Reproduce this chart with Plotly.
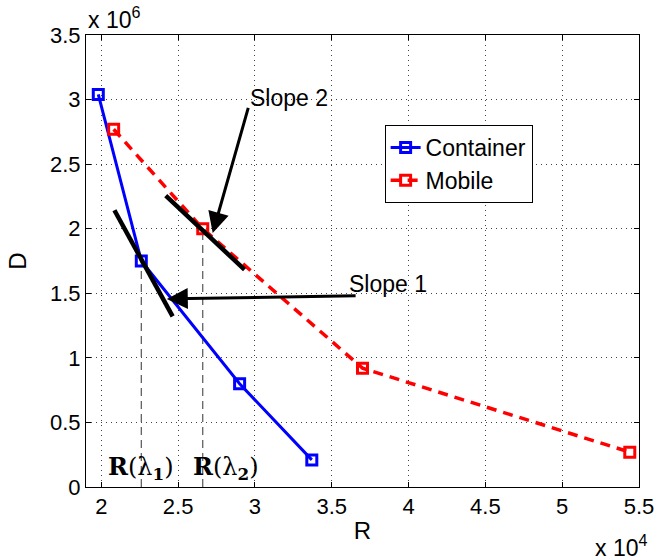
import plotly.graph_objects as go

# Rate (R) and distortion (D) operating points for each sequence
container_R = [19800, 22600, 29000, 33700]
container_D = [3.04e6, 1.75e6, 0.80e6, 0.21e6]
mobile_R = [20800, 26600, 37000, 54400]
mobile_D = [2.77e6, 2.00e6, 0.92e6, 0.27e6]

# Tangent segments (slopes) drawn at the lambda operating points
slope1_R = [20850, 24640]
slope1_D = [2.143e6, 1.321e6]
slope2_R = [24190, 29320]
slope2_D = [2.256e6, 1.683e6]

RS, DS = 1e4, 1e6  # axis scale factors

def sc(vals, s):
    return [v / s for v in vals]

fig = go.Figure()

fig.add_trace(go.Scatter(
    x=sc(container_R, RS), y=sc(container_D, DS), name="Container",
    mode="lines+markers",
    line=dict(color="#0000ff", width=3),
    marker=dict(symbol="square-open", size=10, color="#0000ff", line=dict(width=3)),
))
fig.add_trace(go.Scatter(
    x=sc(mobile_R, RS), y=sc(mobile_D, DS), name="Mobile",
    mode="lines+markers",
    line=dict(color="#ff0000", width=3.5, dash="10px,7px"),
    marker=dict(symbol="square-open", size=10, color="#ff0000", line=dict(width=3)),
))
for xs, ys in ((slope1_R, slope1_D), (slope2_R, slope2_D)):
    fig.add_trace(go.Scatter(
        x=sc(xs, RS), y=sc(ys, DS), mode="lines", showlegend=False,
        line=dict(color="black", width=4.5), hoverinfo="skip",
    ))

# Dashed drop lines from the lambda points to the R axis
for r, d in ((container_R[1], container_D[1]), (mobile_R[1], mobile_D[1])):
    fig.add_shape(type="line", xref="x", yref="y", x0=r / RS, x1=r / RS,
                  y0=0, y1=d / DS, line=dict(color="#555555", width=1.2, dash="8px,5px"),
                  layer="below")

FAM = "Liberation Sans, Arial, sans-serif"
tick_font = dict(family=FAM, size=22, color="black")
text_font = dict(family=FAM, size=23, color="black")
title_font = dict(family=FAM, size=24, color="black")

# Arrows pointing to the slopes
fig.add_annotation(x=2.426, y=1.456, ax=3.665, ay=1.482, xref="x", yref="y",
                   axref="x", ayref="y", showarrow=True, arrowhead=2, arrowsize=1.4,
                   arrowwidth=3, arrowcolor="black", text="")
fig.add_annotation(x=2.725, y=1.967, ax=2.959, ay=2.948, xref="x", yref="y",
                   axref="x", ayref="y", showarrow=True, arrowhead=2, arrowsize=1.4,
                   arrowwidth=3, arrowcolor="black", text="")
fig.add_annotation(x=3.60, y=1.575, xref="x", yref="y", text="Slope 1", showarrow=False,
                   xanchor="left", yanchor="middle", font=text_font)
fig.add_annotation(x=2.955, y=3.015, xref="x", yref="y", text="Slope 2", showarrow=False,
                   xanchor="left", yanchor="middle", font=text_font)

serif = dict(family="DejaVu Serif, Liberation Serif, serif", size=24, color="black")
fig.add_annotation(x=2.032, y=0.145, xref="x", yref="y", text="<b>R</b>(λ<sub><b>1</b></sub>)",
                   showarrow=False, xanchor="left", yanchor="middle", font=serif)
fig.add_annotation(x=2.584, y=0.145, xref="x", yref="y", text="<b>R</b>(λ<sub><b>2</b></sub>)",
                   showarrow=False, xanchor="left", yanchor="middle", font=serif)

# Scale factor labels
fig.add_annotation(x=0, y=1, xref="paper", yref="paper", text="x 10<sup>6</sup>",
                   showarrow=False, xanchor="left", yanchor="bottom", yshift=0, font=text_font)
fig.add_annotation(x=1, y=0, xref="paper", yref="paper", text="x 10<sup>4</sup>",
                   showarrow=False, xanchor="right", yanchor="top", yshift=-42, xshift=10,
                   font=text_font)

axis_common = dict(
    showline=True, linecolor="black", linewidth=1, mirror="ticks",
    ticks="inside", ticklen=5, tickcolor="black",
    showgrid=True, gridcolor="#444444", gridwidth=1, griddash="1px,4px",
    zeroline=False, tickfont=tick_font, title_font=title_font,
)

fig.update_xaxes(range=[1.9, 5.5], tickvals=[2, 2.5, 3, 3.5, 4, 4.5, 5, 5.5],
                 ticktext=["2", "2.5", "3", "3.5", "4", "4.5", "5", "5.5"],
                 title_text="R", title_standoff=3, **axis_common)
fig.update_yaxes(range=[0, 3.5], tickvals=[0, 0.5, 1, 1.5, 2, 2.5, 3, 3.5],
                 ticktext=["0", "0.5", "1", "1.5", "2", "2.5", "3", "3.5"],
                 title_text="D", title_standoff=16, **axis_common)

fig.update_layout(
    width=666, height=560,
    margin=dict(l=86, r=17, t=35, b=73),
    paper_bgcolor="white", plot_bgcolor="white",
    font=text_font,
    legend=dict(x=0.54, y=0.801, xanchor="left", yanchor="top",
                bordercolor="black", borderwidth=1, bgcolor="white",
                font=text_font, tracegroupgap=0),
)

fig.write_html("out.html")
